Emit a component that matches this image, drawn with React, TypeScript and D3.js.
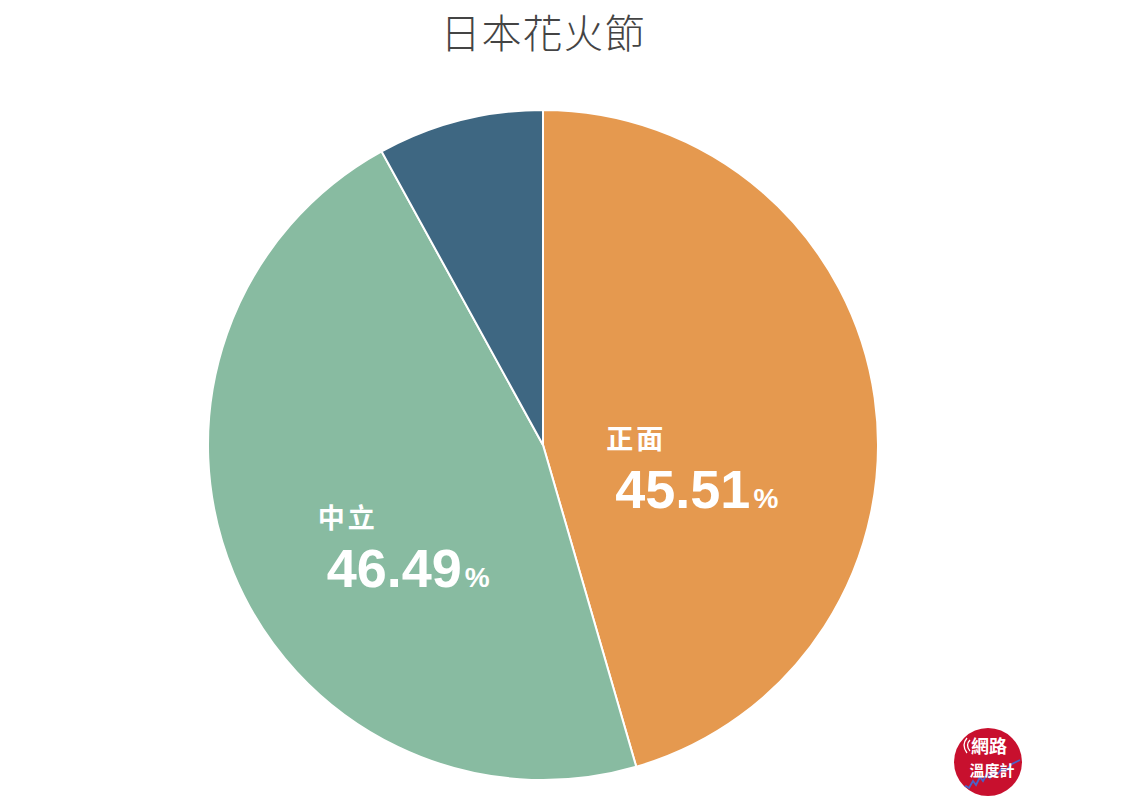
import React from "react";
import * as d3 from "d3";

const categories = ["正面", "中立", "負面"];
const values = [45.51, 46.49, 8.0];
const colors = ["#E5994F", "#88BBA1", "#3E6782"];
const showLabel = [true, true, false];
const title = "日本花火節";

const W = 1140;
const H = 800;
const cx = 543;
const cy = 445;
const R = 335;

export default function App() {
  const data = categories.map((c, i) => ({ name: c, value: values[i], color: colors[i], show: showLabel[i] }));
  const pie = d3.pie<any>().sort(null).value((d: any) => d.value).startAngle(0).endAngle(2 * Math.PI);
  const arcs = pie(data);
  const arc = d3.arc<any>().innerRadius(0).outerRadius(R);
  const labelArc = d3.arc<any>().innerRadius(R * 0.9).outerRadius(0);
  const wave = [
    [950, 796], [958, 792], [962, 789], [966, 786], [969, 788], [973, 781], [976, 785], [980, 777], [983, 781], [987, 774], [990, 778], [994, 771], [998, 774], [1002, 768], [1006, 771], [1012, 764], [1020, 760]
  ];
  return (
    <svg width={W} height={H} style={{ position: "absolute", left: 0, top: 0, background: "#fff" }}>
      <defs>
        <clipPath id="logoClip">
          <circle cx={988} cy={762} r={34} />
        </clipPath>
      </defs>
      <text x={cx} y={48} textAnchor="middle" fontSize={40} fontWeight={300} fill="#444" fontFamily="'Noto Sans CJK TC', 'Noto Sans CJK SC', sans-serif" letterSpacing={1}>
        {title}
      </text>
      <g transform={`translate(${cx},${cy})`}>
        {arcs.map((a, i) => (
          <path key={i} d={arc(a) as string} fill={a.data.color} stroke="#fff" strokeWidth={2} />
        ))}
        {arcs.map((a, i) => {
          if (!a.data.show) return null;
          const [lx, ly] = labelArc.centroid(a);
          return (
            <g key={"l" + i} transform={`translate(${lx},${ly})`} fill="#fff">
              <text x={-86} y={25} fontSize={27} fontWeight={700} fontFamily="'Noto Sans CJK TC', sans-serif" letterSpacing={3}>
                {a.data.name}
              </text>
              <text x={-77} y={84} fontFamily="'Liberation Sans', Arial, sans-serif" fontWeight={700}>
                <tspan fontSize={54}>{a.data.value.toFixed(2)}</tspan>
                <tspan fontSize={28} dx={3}>%</tspan>
              </text>
            </g>
          );
        })}
      </g>
      <g>
        <circle cx={988} cy={762} r={34} fill="#C8102E" />
        <path d={d3.line()(wave as any) as string} fill="none" stroke="#4A63C8" strokeWidth={1.8} clipPath="url(#logoClip)" />
        <text x={989} y={753} textAnchor="middle" fontSize={18} fontWeight={700} fill="#fff" fontFamily="'Noto Sans CJK TC', sans-serif">網路</text>
        <text x={992} y={776} textAnchor="middle" fontSize={15} fontWeight={700} fill="#fff" fontFamily="'Noto Sans CJK TC', sans-serif">溫度計</text>
        <path d="M970,740 q-5,5 0,11" fill="none" stroke="#fff" strokeWidth={1.3} />
        <path d="M967,738 q-6,7 0,15" fill="none" stroke="#fff" strokeWidth={1.3} />
      </g>
    </svg>
  );
}
